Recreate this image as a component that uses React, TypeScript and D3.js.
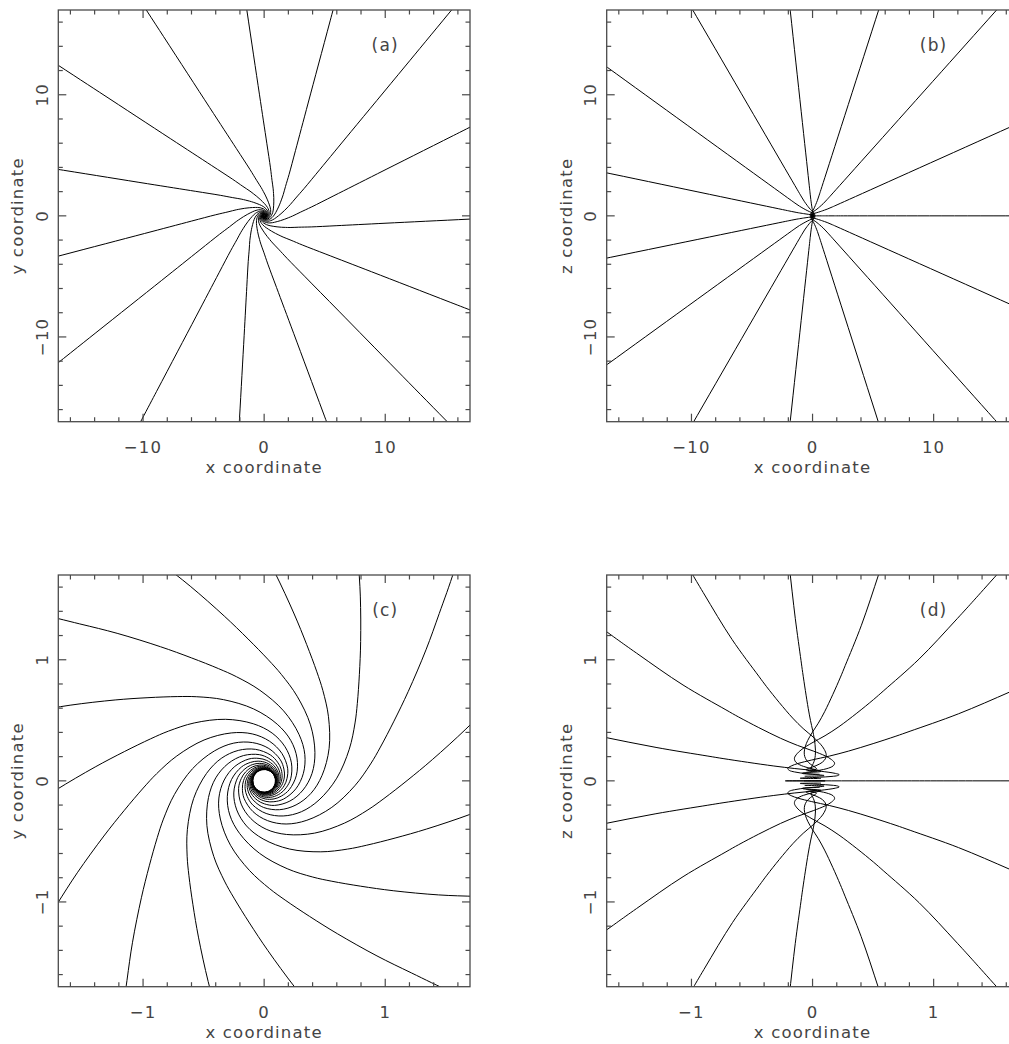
import React, { useEffect, useRef } from "react";
import * as d3 from "d3";

// far-field directions (deg) of the 15 equatorial rays
const inflowAngles = [2.8, 26.7, 50.4, 75.0, 98.5, 123.0, 146.8, 170.9, 194.7, 218.5, 242.2, 266.8, 290.4, 314.4, 338.8];

// equatorial ray: [radius, azimuth offset in deg from its far-field direction] (a) and (c)
const equatorialTwist: [number, number][] = [
  [26, -2.4], [17, -3.7], [10, -6.3], [6, -10.6], [4, -16], [3, -21], [2.35, -27], [2.0, -31.3],
  [1.72, -36], [1.4, -43.2], [1.18, -50.3], [1.0, -58.8], [0.89, -66], [0.75, -78.1], [0.6, -96.4],
  [0.48, -117.7], [0.4, -138], [0.33, -160], [0.27, -185], [0.22, -214], [0.19, -236], [0.17, -256],
  [0.15, -281], [0.135, -306], [0.125, -328], [0.115, -357], [0.108, -386], [0.103, -414],
  [0.099, -446], [0.097, -468], [0.095, -497], [0.094, -517], [0.093, -542],
];

// directions (deg) of the 15 rays in the x-z plane
const polarAngles = [0, 24.2, 48.2, 72.2, 96.2, 120.2, 144.1, 168.2, -24.1, -48.2, -72.3, -96.2, -120.0, -144.1, -168.4];

// x-z rays: [radius, azimuthal drag in deg]
const meridionalTwist: [number, number][] = [
  [26, 0], [2.3, 0], [1.8, 4], [1.35, 12], [1.0, 28], [0.9, 33], [0.75, 43], [0.6, 57], [0.5, 72],
  [0.42, 91], [0.35, 112], [0.3, 130], [0.25, 154], [0.21, 179], [0.18, 204], [0.16, 226],
  [0.145, 247], [0.132, 270], [0.122, 294], [0.114, 319], [0.108, 344], [0.104, 366], [0.1, 395],
  [0.098, 415], [0.096, 440], [0.095, 455], [0.094, 475], [0.093, 500],
];

const wideTicks = [-10, 0, 10];
const closeTicks = [-1, 0, 1];

const panels = [
  { tag: "(a)", left: 58.3, top: 10, span: 17, minor: 2, ticks: wideTicks, plane: "xy", yTitle: "y coordinate" },
  { tag: "(b)", left: 606.7, top: 10, span: 17, minor: 2, ticks: wideTicks, plane: "xz", yTitle: "z coordinate" },
  { tag: "(c)", left: 58.3, top: 575, span: 1.7, minor: 0.2, ticks: closeTicks, plane: "xy", yTitle: "y coordinate" },
  { tag: "(d)", left: 606.7, top: 575, span: 1.7, minor: 0.2, ticks: closeTicks, plane: "xz", yTitle: "z coordinate" },
];

const SIZE = 411.7;
const rad = Math.PI / 180;
const fmt = (v: number) => (v < 0 ? "\u2212" + Math.abs(v) : String(v));

export default function App() {
  const ref = useRef<SVGSVGElement>(null);

  useEffect(() => {
    const svg = d3.select(ref.current);
    svg.selectAll("*").remove();

    panels.forEach((p, k) => {
      const x = d3.scaleLinear().domain([-p.span, p.span]).range([p.left, p.left + SIZE]);
      const y = d3.scaleLinear().domain([-p.span, p.span]).range([p.top + SIZE, p.top]);
      const bottom = p.top + SIZE;
      const right = p.left + SIZE;

      const clipId = "clip" + k;
      svg.append("clipPath").attr("id", clipId)
        .append("rect").attr("x", p.left).attr("y", p.top).attr("width", SIZE).attr("height", SIZE);

      const line = d3.line<[number, number]>()
        .x(d => x(d[0]))
        .y(d => y(d[1]))
        .curve(d3.curveCatmullRom.alpha(0.5));

      const rays: [number, number][][] = p.plane === "xy"
        ? inflowAngles.map(a => equatorialTwist.map(([r, t]) =>
            [r * Math.cos((a + t) * rad), r * Math.sin((a + t) * rad)] as [number, number]))
        : polarAngles.map(a => meridionalTwist.map(([r, t]) =>
            [r * Math.cos(a * rad) * Math.cos(t * rad), r * Math.sin(a * rad)] as [number, number]));

      svg.append("g").attr("clip-path", `url(#${clipId})`)
        .selectAll("path").data(rays).join("path")
        .attr("d", d => line(d))
        .attr("fill", "none")
        .attr("stroke", "#000")
        .attr("stroke-width", 1);

      // frame
      svg.append("rect")
        .attr("x", p.left).attr("y", p.top).attr("width", SIZE).attr("height", SIZE)
        .attr("fill", "none").attr("stroke", "#4a4a4a").attr("stroke-width", 1.3);

      // ticks on all four sides, pointing in
      const n = Math.round(p.span / p.minor);
      const steps = d3.range(-n + 1, n).map(i => ({ v: i * p.minor, len: i % 5 === 0 ? 8 : 4.5 }));
      const tg = svg.append("g").attr("stroke", "#4a4a4a").attr("stroke-width", 1.2);
      steps.forEach(({ v, len }) => {
        tg.append("line").attr("x1", x(v)).attr("x2", x(v)).attr("y1", bottom).attr("y2", bottom - len);
        tg.append("line").attr("x1", x(v)).attr("x2", x(v)).attr("y1", p.top).attr("y2", p.top + len);
        tg.append("line").attr("y1", y(v)).attr("y2", y(v)).attr("x1", p.left).attr("x2", p.left + len);
        tg.append("line").attr("y1", y(v)).attr("y2", y(v)).attr("x1", right).attr("x2", right - len);
      });

      const txt = svg.append("g")
        .attr("font-family", "DejaVu Sans, sans-serif")
        .attr("font-size", 16.5)
        .attr("letter-spacing", 1.2)
        .attr("fill", "#444")
        .attr("text-anchor", "middle");

      p.ticks.forEach(v => {
        txt.append("text").attr("x", x(v)).attr("y", bottom + 31).text(fmt(v));
        txt.append("text")
          .attr("transform", `translate(${p.left - 10.3},${y(v)}) rotate(-90)`)
          .text(fmt(v));
      });

      txt.append("text").attr("x", x(0)).attr("y", bottom + 51).text("x coordinate");
      txt.append("text")
        .attr("transform", `translate(${p.left - 35},${y(0)}) rotate(-90)`)
        .text(p.yTitle);
      txt.append("text").attr("x", x(p.ticks[2])).attr("y", p.top + 41).attr("font-size", 17).text(p.tag);
    });
  }, []);

  return (
    <svg
      ref={ref}
      width={1009}
      height={1044}
      style={{ position: "absolute", left: 0, top: 0, background: "#fff" }}
    />
  );
}
